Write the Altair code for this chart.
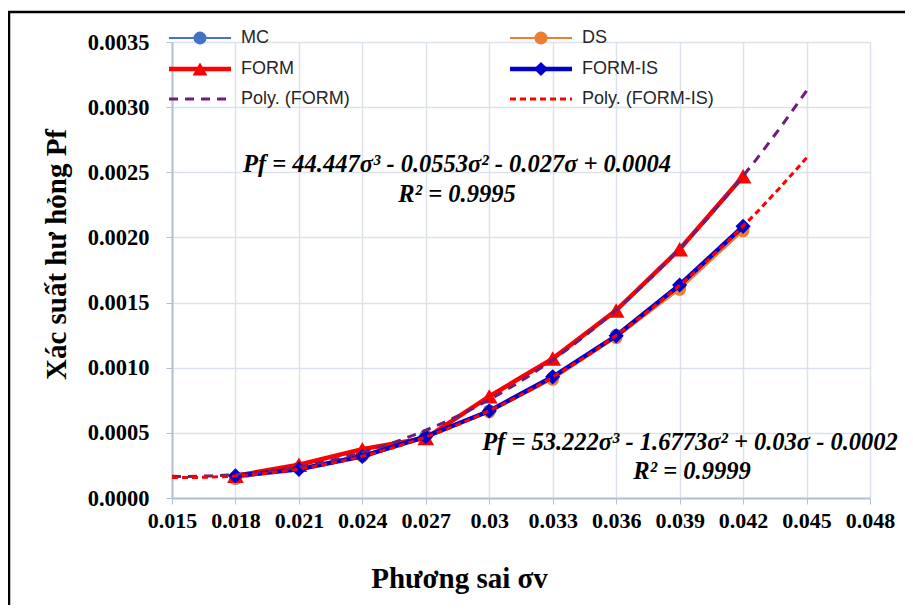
import altair as alt
import pandas as pd

# ---- data ----
sigma = [0.018, 0.021, 0.024, 0.027, 0.030, 0.033, 0.036, 0.039, 0.042]
pf_mc = [0.000150, 0.000230, 0.000330, 0.000480, 0.000670, 0.000925, 0.001250, 0.001620, 0.002070]
pf_ds = [0.000150, 0.000235, 0.000320, 0.000470, 0.000660, 0.000910, 0.001230, 0.001600, 0.002050]
pf_form = [0.000170, 0.000255, 0.000375, 0.000460, 0.000780, 0.001070, 0.001440, 0.001910, 0.002470]
pf_formis = [0.000170, 0.000220, 0.000320, 0.000472, 0.000668, 0.000930, 0.001245, 0.001635, 0.002085]

x_ticks = [0.015, 0.018, 0.021, 0.024, 0.027, 0.030, 0.033, 0.036, 0.039, 0.042, 0.045, 0.048]
y_ticks = [0.0, 0.0005, 0.0010, 0.0015, 0.0020, 0.0025, 0.0030, 0.0035]

eq_form = "Pf = 44.447σ³ - 0.0553σ² - 0.027σ + 0.0004"
r2_form = "R² = 0.9995"
eq_formis = "Pf = 53.222σ³ - 1.6773σ² + 0.03σ - 0.0002"
r2_formis = "R² = 0.9999"

legend_labels = ["MC", "DS", "FORM", "FORM-IS", "Poly. (FORM)", "Poly. (FORM-IS)"]

W, H = 698, 456
SERIF = "Liberation Serif"
SANS = "Liberation Sans"
AXC = "#B4C0D3"
GRID = "#DCE2EC"

def frame(vals):
    return pd.DataFrame({"x": sigma, "y": vals})

xs = alt.Scale(domain=[0.015, 0.048], nice=False, zero=False)
ys = alt.Scale(domain=[0, 0.0035], nice=False)

X = alt.X("x:Q", scale=xs, axis=alt.Axis(
    values=x_ticks, format=".3~f", title="Phương sai σv",
    labelFont=SERIF, labelFontWeight="bold", labelFontSize=22, labelColor="black",
    titleFont=SERIF, titleFontWeight="bold", titleFontSize=29, titleColor="black",
    titleX=287, titleY=80, titleAlign="center", titleBaseline="middle", titleAnchor="start",
    labelPadding=6, tickSize=6, tickColor=AXC,
    domainColor=AXC, domainWidth=2, gridColor=GRID, gridWidth=1.5,
    labelFlush=False, labelOverlap=False))
Y = alt.Y("y:Q", scale=ys, axis=alt.Axis(
    values=y_ticks, format=".4f", title="Xác suất hư hỏng Pf",
    labelFont=SERIF, labelFontWeight="bold", labelFontSize=22.5, labelColor="black",
    titleFont=SERIF, titleFontWeight="bold", titleFontSize=29, titleColor="black",
    titleX=-116, titleY=212, titleAngle=270, titleAlign="center", titleBaseline="middle",
    titleAnchor="start",
    labelPadding=17, tickSize=6, tickColor=AXC,
    domainColor=AXC, domainWidth=2, gridColor=GRID, gridWidth=1.5,
    labelFlush=False, labelOverlap=False))

def series(vals, color, width, shape, size, fill=None):
    base = alt.Chart(frame(vals))
    line = base.mark_line(color=color, strokeWidth=width).encode(x=X, y=Y)
    pts = base.mark_point(shape=shape, filled=True, size=size, color=fill or color,
                          opacity=1).encode(x=X, y=Y)
    return line + pts

mc = series(pf_mc, "#4472C4", 2, "circle", 160)
ds = series(pf_ds, "#ED7D31", 2, "circle", 160)
form = series(pf_form, "#FF0000", 4.5, "triangle-up", 280)
formis = series(pf_formis, "#0000CC", 4.5, "diamond", 230)

def trend(vals, color, dash):
    return alt.Chart(frame(vals)).transform_regression(
        "x", "y", method="poly", order=3, extent=[0.015, 0.045]
    ).mark_line(color=color, strokeWidth=3, strokeDash=dash).encode(x=X, y=Y)

tr_form = trend(pf_form, "#6E1E78", [9, 7])
tr_formis = trend(pf_formis, "#FF0000", [6, 4])

one = pd.DataFrame({"a": [0]})

def txt(s, x, y, size=24.5, font=SERIF, bold=True, italic=True, align="center", color="black"):
    return alt.Chart(one).mark_text(
        font=font, fontSize=size, fontWeight="bold" if bold else "normal",
        fontStyle="italic" if italic else "normal", align=align, baseline="middle",
        color=color
    ).encode(x=alt.value(x), y=alt.value(y), text=alt.value(s))

eqs = (txt(eq_form, 285, 123) + txt(r2_form, 285, 153) +
       txt(eq_formis, 518, 401) + txt(r2_formis, 520, 430))

# legend (drawn by hand to show line + marker symbols)
leg_specs = [
    # label, color, width, dash, shape, size, col, row
    (legend_labels[0], "#4472C4", 2, None, "circle", 170, 0, 0),
    (legend_labels[1], "#ED7D31", 2, None, "circle", 170, 1, 0),
    (legend_labels[2], "#FF0000", 4.5, None, "triangle-up", 220, 0, 1),
    (legend_labels[3], "#0000CC", 4.5, None, "diamond", 200, 1, 1),
    (legend_labels[4], "#6E1E78", 3, [9, 7], None, 0, 0, 2),
    (legend_labels[5], "#FF0000", 3, [6, 4], None, 0, 1, 2),
]
col_x = [-3, 338]
row_y = [-4, 27, 57]
leg_layers = []
for lab, col, wdt, dash, shp, sz, c, r in leg_specs:
    x0 = col_x[c]
    y0 = row_y[r]
    kw = dict(color=col, strokeWidth=wdt)
    if dash:
        kw["strokeDash"] = dash
    leg_layers.append(alt.Chart(one).mark_rule(**kw).encode(
        x=alt.value(x0), x2=alt.value(x0 + 62), y=alt.value(y0)))
    if shp:
        leg_layers.append(alt.Chart(one).mark_point(
            shape=shp, filled=True, size=sz, color=col, opacity=1).encode(
            x=alt.value(x0 + 31), y=alt.value(y0)))
    leg_layers.append(txt(lab, x0 + 72, y0, size=18, font=SANS, bold=False,
                          italic=False, align="left", color="#262626"))

border = alt.Chart(one).mark_rect(fill="white", fillOpacity=0, stroke="black",
                                  strokeWidth=2.5).encode(
    x=alt.value(-163), x2=alt.value(900), y=alt.value(-30), y2=alt.value(700))

chart = alt.layer(mc, ds, form, formis, tr_form, tr_formis, eqs, *leg_layers, border).properties(
    width=W, height=H,
    autosize=alt.AutoSizeParams(type="none"),
    padding={"left": 164, "top": 34, "right": 35, "bottom": 107},
).configure_view(stroke=None).configure(background="white")

chart.save("out.html", embed_options={"renderer": "svg", "actions": False})
